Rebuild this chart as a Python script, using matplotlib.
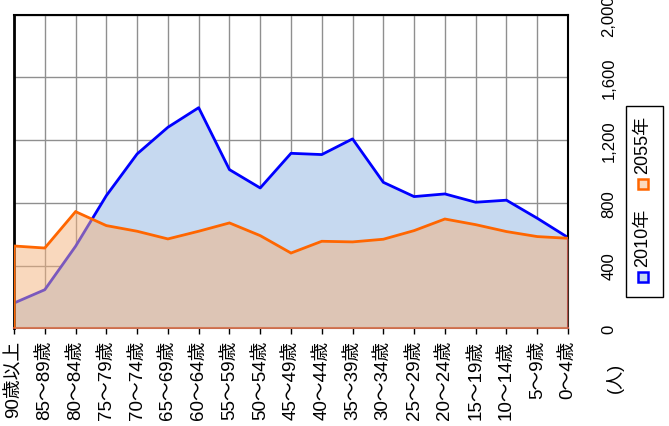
import matplotlib
matplotlib.use("Agg")
import matplotlib.pyplot as plt
from matplotlib.lines import Line2D
from matplotlib.patches import Rectangle

plt.rcParams["font.family"] = ["Liberation Sans", "Noto Sans CJK JP"]

# age groups, oldest first (left to right)
ages = ["90歳以上", "85〜89歳", "80〜84歳", "75〜79歳", "70〜74歳", "65〜69歳",
        "60〜64歳", "55〜59歳", "50〜54歳", "45〜49歳", "40〜44歳", "35〜39歳",
        "30〜34歳", "25〜29歳", "20〜24歳", "15〜19歳", "10〜14歳", "5〜9歳", "0〜4歳"]
pop_2010 = [161, 246, 523, 846, 1112, 1282, 1407, 1012, 895, 1116, 1108, 1208,
            931, 840, 857, 804, 817, 702, 579]
pop_2055 = [525, 512, 744, 655, 619, 570, 619, 672, 591, 480, 555, 551,
            568, 623, 697, 661, 617, 585, 574]
y_ticks = [0, 400, 800, 1200, 1600, 2000]
y_labels = ["0", "400", "800", "1,200", "1,600", "2,000"]
series_names = ["2010年", "2055年"]

W, H = 669, 427
fig = plt.figure(figsize=(W / 100, H / 100), dpi=100)
ax = fig.add_axes([14 / W, 1 - 329.3 / H, 554 / W, 313.6 / H])

x = list(range(len(ages)))

# grid sits under the fills; blue fill is opaque so it hides the grid
ax.grid(True, color="#8f8f8f", linewidth=1.0, zorder=0)
ax.set_axisbelow(True)

ax.fill_between(x, pop_2010, 0, color="#c6d9f0", linewidth=0, zorder=1)
ax.plot(x, pop_2010, color="#0000ff", linewidth=2.0, zorder=2)

ax.fill_between(x, pop_2055, 0, color="#f5b27c", alpha=0.5, linewidth=0, zorder=3)
ax.plot([0] + x, [0] + pop_2055, color="#ff6600", linewidth=2.0, zorder=4,
        solid_joinstyle="miter")
ax.plot([x[-1], x[-1]], [0, pop_2055[-1]], color="#c0504d", linewidth=1.2, zorder=4)

ax.set_xlim(0, len(ages) - 1)
ax.set_ylim(0, 2000)

ax.set_xticks(x)
ax.set_xticklabels(ages, rotation=90, fontsize=13.5)
ax.tick_params(axis="x", direction="out", length=4, width=1, pad=4, colors="black")

ax.yaxis.tick_right()
ax.set_yticks(y_ticks)
ax.set_yticklabels(y_labels, rotation=90, va="center", fontsize=12)
ax.tick_params(axis="y", length=0, pad=24)

for side in ("top", "right"):
    ax.spines[side].set_color("black")
    ax.spines[side].set_linewidth(1.5)
ax.spines["left"].set_color("black")
ax.spines["left"].set_linewidth(2.0)
ax.spines["bottom"].set_color("#b04030")
ax.spines["bottom"].set_linewidth(1.5)

# unit label
fig.text(615 / W, 1 - 378 / H, "(人)", rotation=90, ha="center", va="center",
         fontsize=13)

# hand-drawn rotated legend
fig.add_artist(Rectangle((626 / W, 1 - 298 / H), 37 / W, 191 / H,
                         transform=fig.transFigure, facecolor="white",
                         edgecolor="black", linewidth=1.0))
legend_items = [(series_names[0], 238, 278, "#0000ff", "#c6d9f0"),
                (series_names[1], 145, 185, "#ff6600", "#fbd9bd")]
for name, ty, my, edge, face in legend_items:
    fig.text(643 / W, 1 - ty / H, name, rotation=90, ha="center", va="center",
             fontsize=13)
    fig.add_artist(Line2D([643 / W], [1 - my / H], transform=fig.transFigure,
                          marker="s", markersize=7, markerfacecolor=face,
                          markeredgecolor=edge, markeredgewidth=1.8))

fig.savefig("out.png", dpi=100)
